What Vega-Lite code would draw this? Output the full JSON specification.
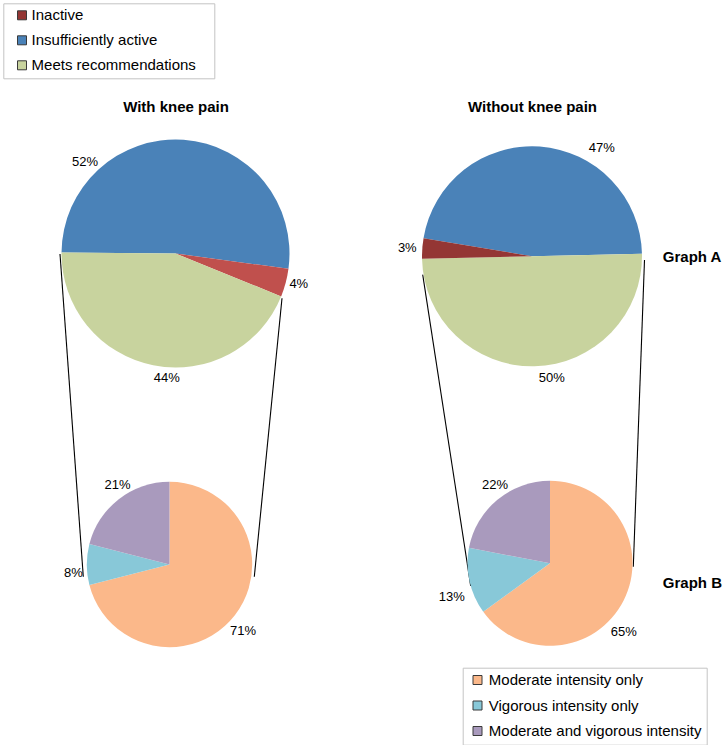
{
  "$schema": "https://vega.github.io/schema/vega-lite/v6.json",
  "width": 724,
  "height": 745,
  "autosize": {"type": "none"},
  "padding": 0,
  "background": "#ffffff",
  "config": {"view": {"stroke": null}, "font": "Liberation Sans"},
  "datasets": {
    "activity": [
      {"group": "With knee pain", "graph": "A", "category": "Insufficiently active", "share": 0.52, "order": 1},
      {"group": "With knee pain", "graph": "A", "category": "Inactive", "share": 0.04, "order": 2},
      {"group": "With knee pain", "graph": "A", "category": "Meets recommendations", "share": 0.44, "order": 3},
      {"group": "Without knee pain", "graph": "A", "category": "Insufficiently active", "share": 0.47, "order": 1},
      {"group": "Without knee pain", "graph": "A", "category": "Meets recommendations", "share": 0.50, "order": 2},
      {"group": "Without knee pain", "graph": "A", "category": "Inactive", "share": 0.03, "order": 3}
    ],
    "intensity": [
      {"group": "With knee pain", "graph": "B", "category": "Moderate intensity only", "share": 0.71, "order": 1},
      {"group": "With knee pain", "graph": "B", "category": "Vigorous intensity only", "share": 0.08, "order": 2},
      {"group": "With knee pain", "graph": "B", "category": "Moderate and vigorous intensity", "share": 0.21, "order": 3},
      {"group": "Without knee pain", "graph": "B", "category": "Moderate intensity only", "share": 0.65, "order": 1},
      {"group": "Without knee pain", "graph": "B", "category": "Vigorous intensity only", "share": 0.13, "order": 2},
      {"group": "Without knee pain", "graph": "B", "category": "Moderate and vigorous intensity", "share": 0.22, "order": 3}
    ],
    "connectors": [
      {"x_from": 60, "y_from": 254, "x_to": 83.3, "y_to": 576.7},
      {"x_from": 282, "y_from": 298.3, "x_to": 254.3, "y_to": 576.7},
      {"x_from": 422.7, "y_from": 274.7, "x_to": 470.7, "y_to": 586},
      {"x_from": 644.5, "y_from": 260, "x_to": 633.3, "y_to": 566.7}
    ]
  },
  "resolve": {
    "scale": {"x": "independent", "y": "independent", "theta": "independent", "color": "independent"},
    "axis": {"x": "independent", "y": "independent"},
    "legend": {"color": "independent"}
  },
  "layer": [
    {
      "data": {"name": "connectors"},
      "mark": {"type": "rule", "color": "#000000", "strokeWidth": 1.1},
      "encoding": {
        "x": {"field": "x_from", "type": "quantitative", "scale": {"domain": [0, 724], "range": [0, 724], "nice": false, "zero": false}, "axis": null},
        "y": {"field": "y_from", "type": "quantitative", "scale": {"domain": [0, 745], "range": [0, 745], "nice": false, "zero": false}, "axis": null},
        "x2": {"field": "x_to"},
        "y2": {"field": "y_to"}
      }
    },
    {
      "data": {"name": "activity"},
      "transform": [{"filter": "datum.group === 'With knee pain'"}],
      "encoding": {
        "x": {"field": "group", "type": "nominal", "scale": {"type": "point", "domain": ["With knee pain", "Without knee pain"], "range": [175.5, 532], "padding": 0},
          "axis": {"orient": "top", "offset": -114, "domain": false, "ticks": false, "tickSize": 0, "labelPadding": 0, "labelAngle": 0, "labelFont": "Liberation Sans", "labelFontSize": 15, "labelFontWeight": "bold", "labelColor": "#000000", "title": null, "grid": false, "labelOverlap": false}},
        "y": {"field": "graph", "type": "nominal", "scale": {"type": "point", "domain": ["A", "B"], "range": [253.5, 564.5], "padding": 0}, "axis": null},
        "theta": {"field": "share", "type": "quantitative", "stack": true, "scale": {"range": [4.7211, 11.0043]}},
        "order": {"field": "order", "type": "quantitative"}
      },
      "layer": [
        {
          "mark": {"type": "arc", "outerRadius": 114},
          "encoding": {"color": {"field": "category", "type": "nominal", "scale": {"domain": ["Inactive", "Insufficiently active", "Meets recommendations"], "range": ["#C0504D", "#4A82B8", "#C8D39E"]}, "legend": null}}
        },
        {
          "mark": {"type": "text", "radius": 128.7, "thetaOffset": -0.8517, "font": "Liberation Sans", "fontSize": 13, "fill": "#000000", "align": "center", "baseline": "middle"},
          "encoding": {"text": {"field": "share", "type": "quantitative", "format": ".0%"}, "detail": {"field": "category"}, "opacity": {"condition": {"test": "datum.category === 'Insufficiently active'", "value": 1}, "value": 0}}
        },
        {
          "mark": {"type": "text", "radius": 127, "thetaOffset": -0.0175, "font": "Liberation Sans", "fontSize": 13, "fill": "#000000", "align": "center", "baseline": "middle"},
          "encoding": {"text": {"field": "share", "type": "quantitative", "format": ".0%"}, "detail": {"field": "category"}, "opacity": {"condition": {"test": "datum.category === 'Inactive'", "value": 1}, "value": 0}}
        },
        {
          "mark": {"type": "text", "radius": 124.5, "thetaOffset": -0.1265, "font": "Liberation Sans", "fontSize": 13, "fill": "#000000", "align": "center", "baseline": "middle"},
          "encoding": {"text": {"field": "share", "type": "quantitative", "format": ".0%"}, "detail": {"field": "category"}, "opacity": {"condition": {"test": "datum.category === 'Meets recommendations'", "value": 1}, "value": 0}}
        }
      ]
    },
    {
      "data": {"name": "activity"},
      "transform": [{"filter": "datum.group === 'Without knee pain'"}],
      "encoding": {
        "x": {"field": "group", "type": "nominal", "scale": {"type": "point", "domain": ["With knee pain", "Without knee pain"], "range": [175.5, 532], "padding": 0}, "axis": null},
        "y": {"field": "graph", "type": "nominal", "scale": {"type": "point", "domain": ["A", "B"], "range": [256.3, 582.2], "padding": 0},
          "axis": {"orient": "right", "offset": -61.7, "domain": false, "ticks": false, "tickSize": 0, "labelPadding": 0, "labelFont": "Liberation Sans", "labelFontSize": 15, "labelFontWeight": "bold", "labelColor": "#000000", "labelAlign": "left", "labelBaseline": "middle", "labelExpr": "'Graph ' + datum.label", "title": null, "grid": false, "labelOverlap": false}},
        "theta": {"field": "share", "type": "quantitative", "stack": true, "scale": {"range": [4.8782, 11.1614]}},
        "order": {"field": "order", "type": "quantitative"}
      },
      "layer": [
        {
          "mark": {"type": "arc", "outerRadius": 110},
          "encoding": {"color": {"field": "category", "type": "nominal", "scale": {"domain": ["Inactive", "Insufficiently active", "Meets recommendations"], "range": ["#943634", "#4A82B8", "#C8D39E"]},
            "legend": {"orient": "none", "legendX": 3.3, "legendY": 3.3, "direction": "vertical", "title": "Activity level", "titleOrient": "right", "titleFontSize": 1, "titlePadding": 7, "titleOpacity": 0, "symbolType": "square", "symbolSize": 81, "symbolStrokeColor": "#3a3a3a", "symbolStrokeWidth": 1, "labelFont": "Liberation Sans", "labelFontSize": 15, "labelColor": "#000000", "labelLimit": 400, "labelOffset": 2.1, "symbolOffset": 6.7, "padding": 4.5, "rowPadding": 9, "strokeColor": "#c4c4c4", "fillColor": "#ffffff"}}}
        },
        {
          "mark": {"type": "text", "radius": 129, "thetaOffset": 0.4992, "font": "Liberation Sans", "fontSize": 13, "fill": "#000000", "align": "center", "baseline": "middle"},
          "encoding": {"text": {"field": "share", "type": "quantitative", "format": ".0%"}, "detail": {"field": "category"}, "opacity": {"condition": {"test": "datum.category === 'Insufficiently active'", "value": 1}, "value": 0}}
        },
        {
          "mark": {"type": "text", "radius": 123.6, "thetaOffset": -0.1379, "font": "Liberation Sans", "fontSize": 13, "fill": "#000000", "align": "center", "baseline": "middle"},
          "encoding": {"text": {"field": "share", "type": "quantitative", "format": ".0%"}, "detail": {"field": "category"}, "opacity": {"condition": {"test": "datum.category === 'Meets recommendations'", "value": 1}, "value": 0}}
        },
        {
          "mark": {"type": "text", "radius": 125, "thetaOffset": -0.005, "font": "Liberation Sans", "fontSize": 13, "fill": "#000000", "align": "center", "baseline": "middle"},
          "encoding": {"text": {"field": "share", "type": "quantitative", "format": ".0%"}, "detail": {"field": "category"}, "opacity": {"condition": {"test": "datum.category === 'Inactive'", "value": 1}, "value": 0}}
        }
      ]
    },
    {
      "data": {"name": "intensity"},
      "transform": [{"filter": "datum.group === 'With knee pain'"}],
      "encoding": {
        "x": {"field": "group", "type": "nominal", "scale": {"type": "point", "domain": ["With knee pain", "Without knee pain"], "range": [169.5, 550], "padding": 0}, "axis": null},
        "y": {"field": "graph", "type": "nominal", "scale": {"type": "point", "domain": ["A", "B"], "range": [253.5, 564.5], "padding": 0}, "axis": null},
        "theta": {"field": "share", "type": "quantitative", "stack": true, "scale": {"range": [0, 6.2832]}},
        "order": {"field": "order", "type": "quantitative"}
      },
      "layer": [
        {
          "mark": {"type": "arc", "outerRadius": 82.7},
          "encoding": {"color": {"field": "category", "type": "nominal", "scale": {"domain": ["Moderate intensity only", "Vigorous intensity only", "Moderate and vigorous intensity"], "range": ["#FBB88A", "#88C8D8", "#A99ABD"]}, "legend": null}}
        },
        {
          "mark": {"type": "text", "radius": 98.9, "thetaOffset": 0.0733, "font": "Liberation Sans", "fontSize": 13, "fill": "#000000", "align": "center", "baseline": "middle"},
          "encoding": {"text": {"field": "share", "type": "quantitative", "format": ".0%"}, "detail": {"field": "category"}, "opacity": {"condition": {"test": "datum.category === 'Moderate intensity only'", "value": 1}, "value": 0}}
        },
        {
          "mark": {"type": "text", "radius": 96.6, "thetaOffset": -0.0908, "font": "Liberation Sans", "fontSize": 13, "fill": "#000000", "align": "center", "baseline": "middle"},
          "encoding": {"text": {"field": "share", "type": "quantitative", "format": ".0%"}, "detail": {"field": "category"}, "opacity": {"condition": {"test": "datum.category === 'Vigorous intensity only'", "value": 1}, "value": 0}}
        },
        {
          "mark": {"type": "text", "radius": 94.7, "thetaOffset": 0.0785, "font": "Liberation Sans", "fontSize": 13, "fill": "#000000", "align": "center", "baseline": "middle"},
          "encoding": {"text": {"field": "share", "type": "quantitative", "format": ".0%"}, "detail": {"field": "category"}, "opacity": {"condition": {"test": "datum.category === 'Moderate and vigorous intensity'", "value": 1}, "value": 0}}
        }
      ]
    },
    {
      "data": {"name": "intensity"},
      "transform": [{"filter": "datum.group === 'Without knee pain'"}],
      "encoding": {
        "x": {"field": "group", "type": "nominal", "scale": {"type": "point", "domain": ["With knee pain", "Without knee pain"], "range": [169.5, 550], "padding": 0}, "axis": null},
        "y": {"field": "graph", "type": "nominal", "scale": {"type": "point", "domain": ["A", "B"], "range": [256.3, 563.3], "padding": 0}, "axis": null},
        "theta": {"field": "share", "type": "quantitative", "stack": true, "scale": {"range": [0, 6.2832]}},
        "order": {"field": "order", "type": "quantitative"}
      },
      "layer": [
        {
          "mark": {"type": "arc", "outerRadius": 82.5},
          "encoding": {"color": {"field": "category", "type": "nominal", "scale": {"domain": ["Moderate intensity only", "Vigorous intensity only", "Moderate and vigorous intensity"], "range": ["#FBB88A", "#88C8D8", "#A99ABD"]},
            "legend": {"orient": "none", "legendX": 462.7, "legendY": 667.7, "direction": "vertical", "title": null, "symbolType": "square", "symbolSize": 81, "symbolStrokeColor": "#3a3a3a", "symbolStrokeWidth": 1, "labelFont": "Liberation Sans", "labelFontSize": 15, "labelColor": "#000000", "labelLimit": 400, "labelOffset": 3.8, "symbolOffset": 2.5, "padding": 4.8, "rowPadding": 9.5, "strokeColor": "#c4c4c4", "fillColor": "#ffffff"}}}
        },
        {
          "mark": {"type": "text", "radius": 101, "thetaOffset": 0.281, "font": "Liberation Sans", "fontSize": 13, "fill": "#000000", "align": "center", "baseline": "middle"},
          "encoding": {"text": {"field": "share", "type": "quantitative", "format": ".0%"}, "detail": {"field": "category"}, "opacity": {"condition": {"test": "datum.category === 'Moderate intensity only'", "value": 1}, "value": 0}}
        },
        {
          "mark": {"type": "text", "radius": 103.8, "thetaOffset": -0.1082, "font": "Liberation Sans", "fontSize": 13, "fill": "#000000", "align": "center", "baseline": "middle"},
          "encoding": {"text": {"field": "share", "type": "quantitative", "format": ".0%"}, "detail": {"field": "category"}, "opacity": {"condition": {"test": "datum.category === 'Vigorous intensity only'", "value": 1}, "value": 0}}
        },
        {
          "mark": {"type": "text", "radius": 95.4, "thetaOffset": 0.0768, "font": "Liberation Sans", "fontSize": 13, "fill": "#000000", "align": "center", "baseline": "middle"},
          "encoding": {"text": {"field": "share", "type": "quantitative", "format": ".0%"}, "detail": {"field": "category"}, "opacity": {"condition": {"test": "datum.category === 'Moderate and vigorous intensity'", "value": 1}, "value": 0}}
        }
      ]
    }
  ]
}
